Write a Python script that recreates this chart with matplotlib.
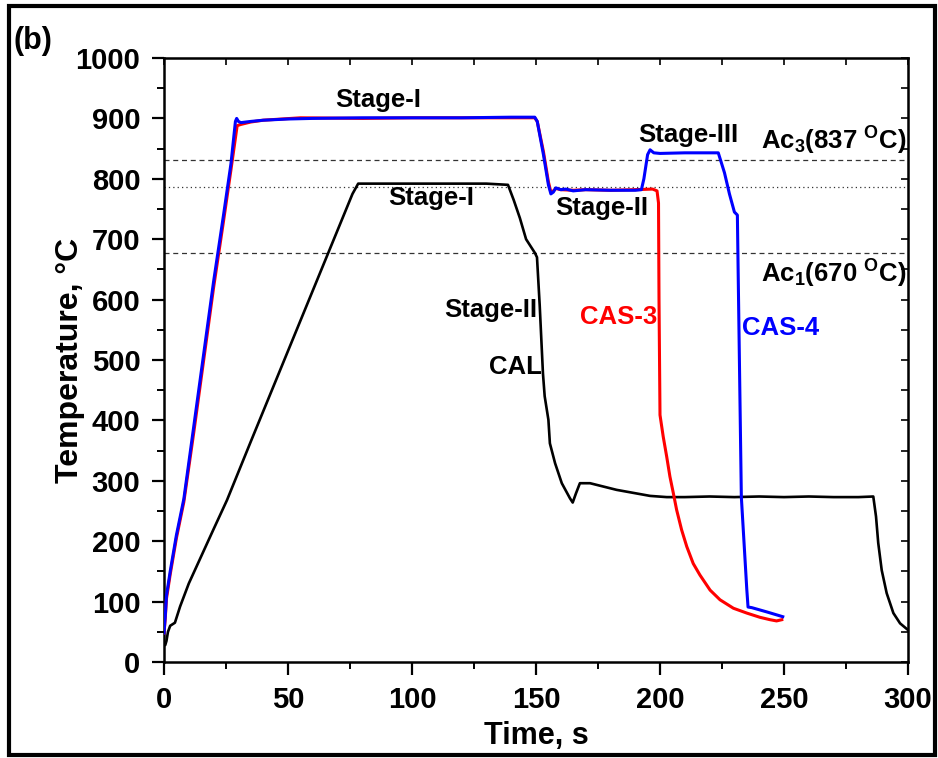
import matplotlib
matplotlib.use("Agg")
import matplotlib.pyplot as plt
from matplotlib.patches import Rectangle

# Time (s) and temperature (C)
cas4_t = [0, 0.5, 1, 2.5, 5, 8, 12, 16, 20, 24, 27, 28.8, 29.3, 30, 31, 35, 40, 50, 60, 80, 100,
          120, 140, 149.5, 150.5, 153, 155, 156, 157, 158, 160, 162, 165, 170, 180, 190, 192.5,
          193.5, 195, 196, 197.5, 200, 210, 220, 223.5, 226, 228, 230, 231.2, 231.5, 232.8, 235,
          235.5, 237, 243, 249.5]
cas4_T = [48, 75, 110, 150, 210, 270, 390, 510, 630, 740, 825, 895, 900, 895, 893, 895, 897, 899,
          900, 901, 901, 901, 902, 902, 895, 840, 790, 775, 778, 785, 782, 783, 780, 782, 781, 781,
          782, 800, 840, 848, 843, 842, 843, 843, 843, 810, 775, 745, 740, 650, 273, 120, 91, 90,
          83, 75]

cas3_t = [0, 0.5, 1, 2.5, 5, 8, 12, 16, 20, 24, 27, 29.5, 31, 35, 40, 55, 80, 100, 120, 140, 149.5,
          150.5, 153, 155, 156, 157, 158, 160, 165, 170, 180, 190, 197, 198.8, 199.4, 199.6, 200,
          201.3, 202.7, 204, 205.4, 206.7, 208.7, 210.8, 213.4, 216.1, 220.2, 224.2, 229.6, 235,
          240.3, 244.4, 247, 249.1]
cas3_T = [48, 72, 105, 145, 205, 265, 380, 500, 620, 730, 815, 888, 890, 894, 897, 901, 900, 901,
          901, 901, 901, 895, 845, 795, 778, 780, 784, 782, 781, 782, 781, 782, 783, 780, 760, 600,
          409, 373, 340, 307, 279, 252, 219, 191, 163, 144, 119, 103, 89, 81, 74, 70, 68, 70]

cal_t = [0, 0.5, 1, 1.6, 2.5, 4.4, 6.5, 10, 15, 20, 25.4, 35, 45, 55, 65, 72, 76, 78.3, 90, 110,
         130, 138.7, 141, 143.5, 146, 149.6, 150.4, 151.5, 152.8, 153.5, 155, 155.6, 157.7, 160.4,
         163.7, 164.8, 166.1, 167.7, 171.8, 182.5, 196, 202.7, 210, 220, 230, 240, 250, 260, 270,
         280, 286, 287.1, 288, 289.4, 291.4, 294.1, 296.8, 300]
cal_T = [28, 28, 35, 50, 60, 65, 92, 130, 175, 220, 268, 365, 465, 565, 665, 735, 775, 792, 792,
         792, 792, 790, 765, 735, 700, 677, 670, 590, 478, 440, 401, 362, 329, 296, 271, 264, 279,
         296, 296, 285, 275, 273, 273, 274, 273, 274, 273, 274, 273, 273, 274, 241, 197, 152, 114,
         81, 64, 53]

ref_levels = [831, 786, 677]
ref_styles = [(0, (4, 3)), (0, (1, 2.5)), (0, (4, 3))]

plt.rcParams["font.family"] = ["Liberation Sans", "DejaVu Sans"]
plt.rcParams["font.weight"] = "bold"
plt.rcParams["mathtext.fontset"] = "custom"
plt.rcParams["mathtext.rm"] = "Liberation Sans:bold"
plt.rcParams["mathtext.it"] = "Liberation Sans:bold"
plt.rcParams["mathtext.bf"] = "Liberation Sans:bold"

fig = plt.figure(figsize=(9.38, 7.58), dpi=100)
ax = fig.add_axes([164 / 938, 1 - 662 / 758, 744 / 938, 604 / 758])

for lvl, ls in zip(ref_levels, ref_styles):
    ax.axhline(lvl, color="#333333", lw=0.9, linestyle=ls, zorder=1)

ax.plot(cal_t, cal_T, color="black", lw=1.9, zorder=3)
ax.plot(cas3_t, cas3_T, color="red", lw=2.2, zorder=4)
ax.plot(cas4_t, cas4_T, color="blue", lw=2.2, zorder=5)

ax.set_xlim(0, 300)
ax.set_ylim(0, 1000)
ax.set_xticks([0, 50, 100, 150, 200, 250, 300])
ax.set_xticks([25, 75, 125, 175, 225, 275], minor=True)
ax.set_yticks(range(0, 1001, 100))
ax.set_yticks(range(50, 1000, 100), minor=True)
ax.tick_params(which="major", direction="out", length=9, width=1.6, labelsize=21)
ax.tick_params(which="minor", direction="out", length=5, width=1.4)
ax.tick_params(axis="x", which="major", pad=8)
ax.tick_params(axis="y", which="major", pad=8)
for sp in ax.spines.values():
    sp.set_linewidth(1.8)

# top/right axes with ticks only
axt = ax.secondary_xaxis("top")
axt.set_xticks([0, 25, 50, 75, 100, 125, 150, 175, 200, 225, 250, 275, 300])
axt.tick_params(direction="in", length=5, width=1.2, labeltop=False)
axr = ax.secondary_yaxis("right")
axr.set_yticks(range(0, 1001, 50))
axr.tick_params(direction="in", length=5, width=1.2, labelright=False)

ax.set_xlabel("Time, s", fontsize=22, fontweight="bold", labelpad=5)
ax.set_ylabel("Temperature, °C", fontsize=23, fontweight="bold", labelpad=-7)

fs = 18.5
ax.text(86.5, 930, "Stage-I", fontsize=fs, ha="center", va="center")
ax.text(107.7, 768, "Stage-I", fontsize=fs, ha="center", va="center")
ax.text(176.6, 752, "Stage-II", fontsize=fs, ha="center", va="center")
ax.text(211.4, 872, "Stage-III", fontsize=fs, ha="center", va="center")
ax.text(150.4, 583, "Stage-II", fontsize=fs, ha="right", va="center")
ax.text(152.4, 488, "CAL", fontsize=fs, ha="right", va="center")
ax.text(198.8, 571, "CAS-3", fontsize=fs, ha="right", va="center", color="red")
ax.text(233, 553, "CAS-4", fontsize=fs, ha="left", va="center", color="blue")
ax.text(299.5, 862, r"Ac$_{3}$(837 $^{\rm O}$C)", fontsize=fs, ha="right", va="center")
ax.text(299.5, 642, r"Ac$_{1}$(670 $^{\rm O}$C)", fontsize=fs, ha="right", va="center")

fig.text(13 / 938, 1 - 41 / 758, "(b)", fontsize=22, ha="left", va="center")
fig.patches.append(Rectangle((9 / 938, 3 / 758), 926 / 938, 749 / 758, transform=fig.transFigure,
                             fill=False, edgecolor="black", lw=3))

fig.savefig("out.png", dpi=100)
